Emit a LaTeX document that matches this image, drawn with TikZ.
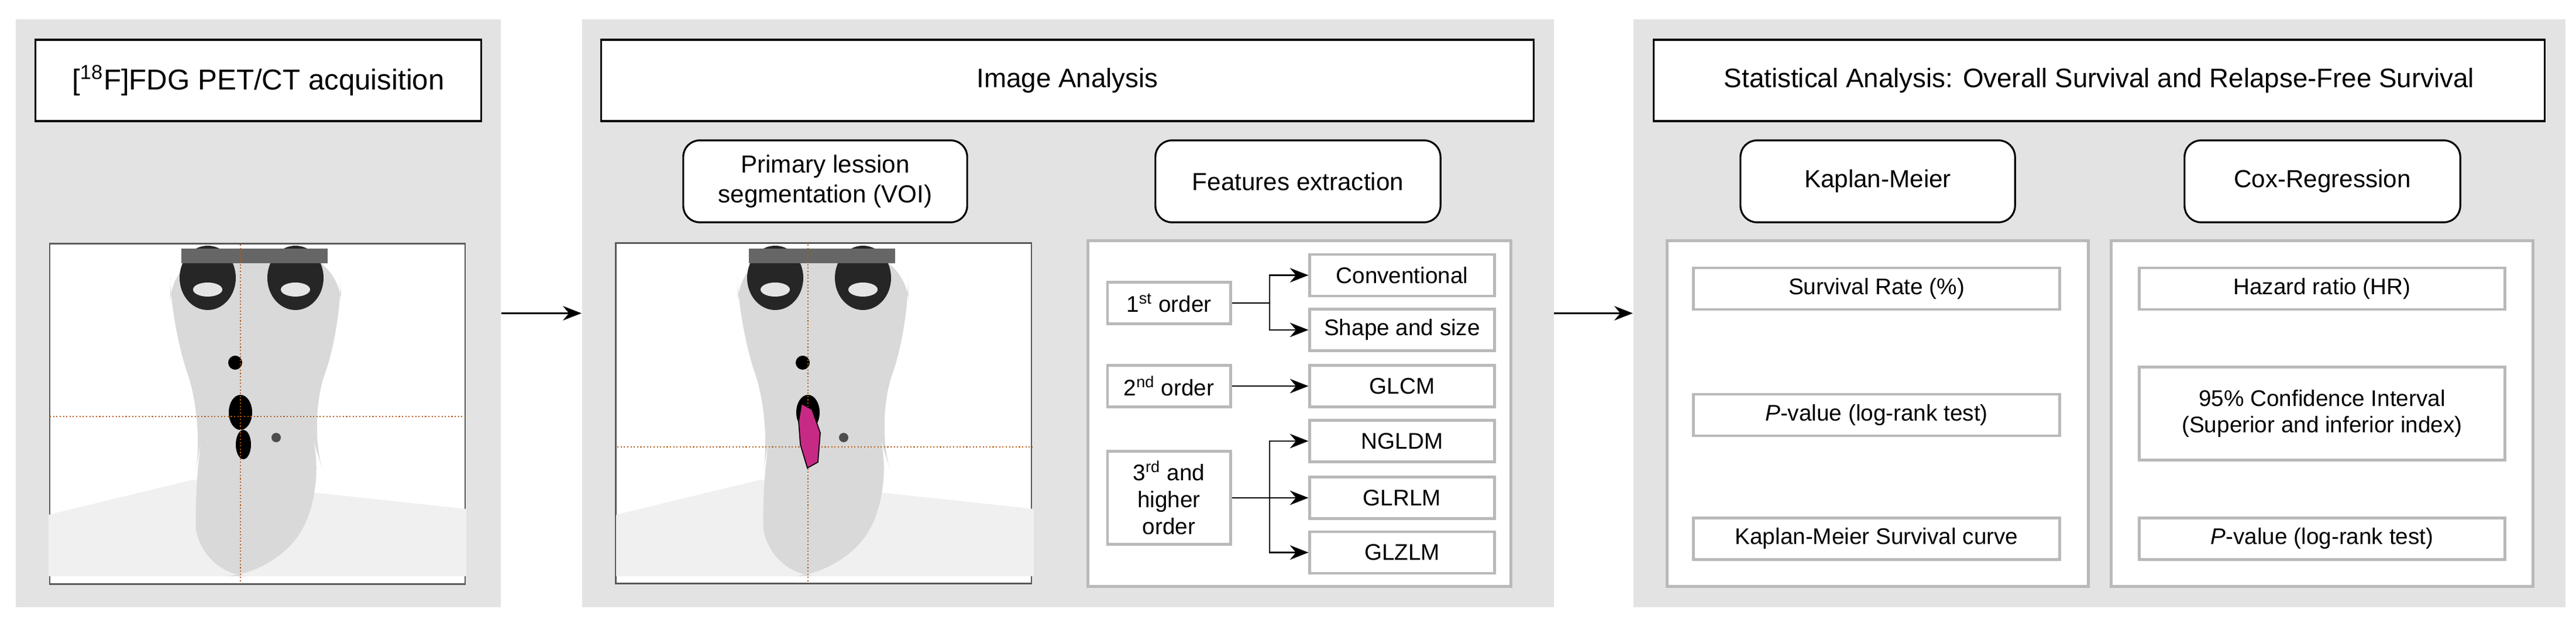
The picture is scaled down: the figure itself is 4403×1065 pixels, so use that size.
\documentclass[tikz,border=0pt]{standalone}
\usepackage{fontspec}
\setmainfont{Liberation Sans}
\usetikzlibrary{positioning,arrows.meta}

\tikzset{
  panel/.style={draw=none,fill=gray!22,minimum height=10.05cm},
  title/.style={draw=black,fill=white,line width=0.9pt,minimum height=1.39cm,font=\fontsize{13}{15}\selectfont},
  stage/.style={draw=black,fill=white,rounded corners=8pt,line width=0.9pt,minimum height=1.4cm,align=center,font=\fontsize{12}{14.5}\selectfont},
  frame/.style={draw=gray!55,fill=white,line width=1.4pt,minimum height=5.9cm},
  item/.style={draw=gray!55,fill=white,line width=1.4pt,minimum height=0.71cm,align=center,font=\fontsize{11}{13}\selectfont},
  scan/.style={draw=gray!70!black,line width=0.7pt,fill=white,minimum width=7.1cm,minimum height=5.82cm},
  flow/.style={-{Stealth[length=9pt,width=7pt]},line width=0.8pt}
}

% simple PET maximum-intensity projection of head and neck
\newcommand{\petscan}[3]{%
  \begin{scope}[shift={(#1,0)}]
    \fill[gray!12] (83,880) -- (330,820) -- (797,870) -- (797,985) -- (83,985) -- cycle;
    \fill[gray!30,rounded corners=25] (290,430) -- (580,430) -- (585,560) -- (525,720)
      -- (560,830) -- (470,985) -- (340,985) -- (330,830) -- (350,720) -- (292,560) -- cycle;
    \fill[black!85] (355,475) ellipse (48 and 55);
    \fill[black!85] (505,475) ellipse (48 and 55);
    \fill[black!60] (310,425) rectangle (560,450);
    \fill[gray!20] (355,495) ellipse (25 and 12);
    \fill[gray!20] (505,495) ellipse (25 and 12);
    \fill[black] (402,620) circle (12);
    \fill[black] (411,705) ellipse (20 and 30);
    \fill[black] (416,760) ellipse (13 and 25);
    \fill[black!70] (472,748) circle (8);
    \draw[orange!70!black,densely dotted,line width=0.6pt] (411,418) -- (411,997);
    \draw[orange!70!black,densely dotted,line width=0.6pt] (85,#2) -- (795,#2);
    #3
  \end{scope}}

\begin{document}
\begin{tikzpicture}[x=0.01cm,y=-0.01cm]
  \useasboundingbox (0,0) rectangle (4403,1065);

  % three panels
  \node[panel,minimum width=8.29cm] (p1) at (441.5,535.5) {};
  \node[panel,minimum width=16.6cm] (p2) at (1825,535.5) {};
  \node[panel,minimum width=15.92cm] (p3) at (3588,535.5) {};
  \draw[flow] (p1.east) -- (p2.west);
  \draw[flow] (p2.east) -- (p3.west);

  % acquisition
  \node[title,minimum width=7.61cm,font=\fontsize{14}{16}\selectfont] (acq) at (441.5,137.5) {[\textsuperscript{18}F]FDG PET/CT acquisition};
  \node[scan] (pet) at (440,707.5) {};
  \petscan{0}{712}{}

  % image analysis
  \node[title,minimum width=15.93cm] (ia) at (1824.5,137.5) {Image Analysis};
  \node[stage,minimum width=4.85cm] (seg) at (1410.5,310) {Primary lession\\segmentation (VOI)};
  \node[stage,minimum width=4.87cm] (feat) at (2218.5,310) {Features extraction};
  \node[scan] (voi) at (1407.5,706.5) {};
  \petscan{970}{764}{\fill[magenta!80!black,draw=black,line width=0.5pt] (400,690) -- (418,700) -- (432,740) -- (428,790) -- (410,800) -- (398,760) -- (395,720) -- cycle;}

  \node[frame,minimum width=7.22cm] (fbox) at (2221,707) {};
  \node[item,minimum width=2.1cm] (o1) at (1998,518) {1\textsuperscript{st} order};
  \node[item,minimum width=2.1cm] (o2) at (1998,660) {2\textsuperscript{nd} order};
  \node[item,minimum width=2.1cm,minimum height=1.58cm] (o3) at (1998,851) {3\textsuperscript{rd} and\\higher\\order};
  \node[item,minimum width=3.15cm] (conv) at (2396.5,470.5) {Conventional};
  \node[item,minimum width=3.15cm] (shape) at (2396.5,564) {Shape and size};
  \node[item,minimum width=3.15cm] (glcm) at (2396.5,660) {GLCM};
  \node[item,minimum width=3.15cm] (ngldm) at (2396.5,754) {NGLDM};
  \node[item,minimum width=3.15cm] (glrlm) at (2396.5,851) {GLRLM};
  \node[item,minimum width=3.15cm] (glzlm) at (2396.5,944.5) {GLZLM};
  \coordinate (b1) at (2170,518);
  \coordinate (b3) at (2170,851);
  \draw[line width=0.8pt] (o1.east) -- (b1);
  \draw[flow] (b1) |- (conv.west);
  \draw[flow] (b1) |- (shape.west);
  \draw[flow] (o2.east) -- (glcm.west);
  \draw[flow] (o3.east) -- (glrlm.west);
  \draw[flow] (b3) |- (ngldm.west);
  \draw[flow] (b3) |- (glzlm.west);

  % statistical analysis
  \node[title,minimum width=15.22cm] (sa) at (3588,137.5) {Statistical Analysis: Overall Survival and Relapse-Free Survival};
  \node[stage,minimum width=4.69cm] (km) at (3209.5,310) {Kaplan-Meier};
  \node[stage,minimum width=4.71cm] (cox) at (3969.5,310) {Cox-Regression};
  \node[frame,minimum width=7.19cm] (kmbox) at (3209.5,707) {};
  \node[frame,minimum width=7.2cm] (coxbox) at (3969,707) {};
  \node[item,minimum width=6.25cm] (rate) at (3207.5,493.5) {Survival Rate (\%)};
  \node[item,minimum width=6.25cm] (pkm) at (3207.5,709.5) {\textit{P}-value (log-rank test)};
  \node[item,minimum width=6.25cm] (curve) at (3207.5,921) {Kaplan-Meier Survival curve};
  \node[item,minimum width=6.24cm] (hr) at (3969,493.5) {Hazard ratio (HR)};
  \node[item,minimum width=6.24cm,minimum height=1.58cm] (ci) at (3969,707) {95\% Confidence Interval\\(Superior and inferior index)};
  \node[item,minimum width=6.24cm] (pcox) at (3969,921) {\textit{P}-value (log-rank test)};
\end{tikzpicture}
\end{document}
